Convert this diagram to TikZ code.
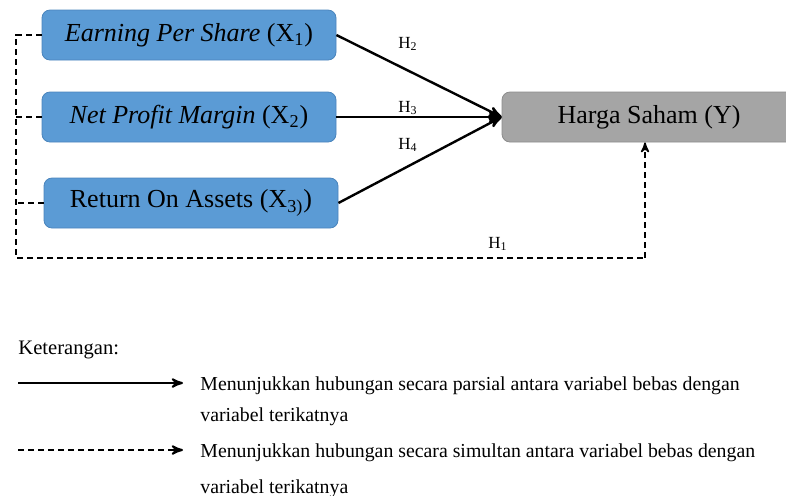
\documentclass[tikz,border=0pt]{standalone}
\usepackage{fontspec}
\setmainfont{Liberation Serif}
\usetikzlibrary{arrows}

\definecolor{boxblue}{HTML}{5B9BD5}
\definecolor{boxedge}{HTML}{4A84BC}
\definecolor{boxgray}{HTML}{A5A5A5}
\definecolor{grayedge}{HTML}{8C8C8C}

\begin{document}
\begin{tikzpicture}[x=0.5pt,y=-0.5pt,>=stealth',
        var/.style={rectangle, rounded corners=4pt, fill=boxblue, draw=boxedge,
            minimum width=147pt, minimum height=25pt, inner sep=0pt,
            font=\fontsize{13}{15}\selectfont},
        dep/.style={var, fill=boxgray, draw=grayedge},
        partial/.style={->, line width=1.2pt},
        simul/.style={line width=1pt, dash pattern=on 3pt off 2pt},
        hlab/.style={font=\fontsize{8.5}{10}\selectfont, inner sep=0pt},
        legtext/.style={anchor=north west, align=left, inner sep=0pt,
            font=\fontsize{9.9}{15.5}\selectfont}]
    \useasboundingbox (0,0) rectangle (786,495);

    % variables
    \node[var] (eps) at (189,35) {\textit{Earning Per Share} (X\textsubscript{1})};
    \node[var] (npm) at (189,117) {\textit{Net Profit Margin} (X\textsubscript{2})};
    \node[var] (roa) at (191,203) {Return On Assets (X\textsubscript{3)})};
    \node[dep] (hs) at (649,117) {Harga Saham (Y)};

    % partial effects
    \draw[partial] (eps.east) -- (hs.west);
    \draw[partial] (npm.east) -- (hs.west);
    \draw[partial] (roa.east) -- (hs.west);
    \node[hlab] (h2) at (408,44) {H\textsubscript{2}};
    \node[hlab] (h3) at (408,108) {H\textsubscript{3}};
    \node[hlab] (h4) at (408,145) {H\textsubscript{4}};

    % simultaneous effect
    \coordinate (top) at (16,35);
    \coordinate (bot) at (16,258);
    \coordinate (turn) at (645,258);
    \draw[simul] (eps.west) -- (top) -- (bot) -- (turn);
    \draw[simul] (npm.west) -- (npm.west -| top);
    \draw[simul] (roa.west) -- (roa.west -| top);
    \draw[->, line width=0.8pt, dash pattern=on 3pt off 2pt] (turn) -- (turn |- hs.south);
    \node[hlab] (h1) at (498,244) {H\textsubscript{1}};

    % legend
    \node[anchor=west, inner sep=0pt, font=\fontsize{10.3}{12}\selectfont] (ket) at (18,350) {Keterangan:};
    \coordinate (a1) at (18,383);
    \coordinate (a2) at (183,383);
    \coordinate (b1) at (18,450);
    \coordinate (b2) at (183,450);
    \draw[->, line width=1pt] (a1) -- (a2);
    \draw[->, line width=1pt, dash pattern=on 3pt off 2pt] (b1) -- (b2);
    \node[legtext] (lp) at (200,376) {Menunjukkan hubungan secara parsial antara variabel bebas dengan\\variabel terikatnya};
    \node[legtext, font=\fontsize{9.9}{18}\selectfont] (ls) at (200,443) {Menunjukkan hubungan secara simultan antara variabel bebas dengan\\variabel terikatnya};
\end{tikzpicture}
\end{document}
